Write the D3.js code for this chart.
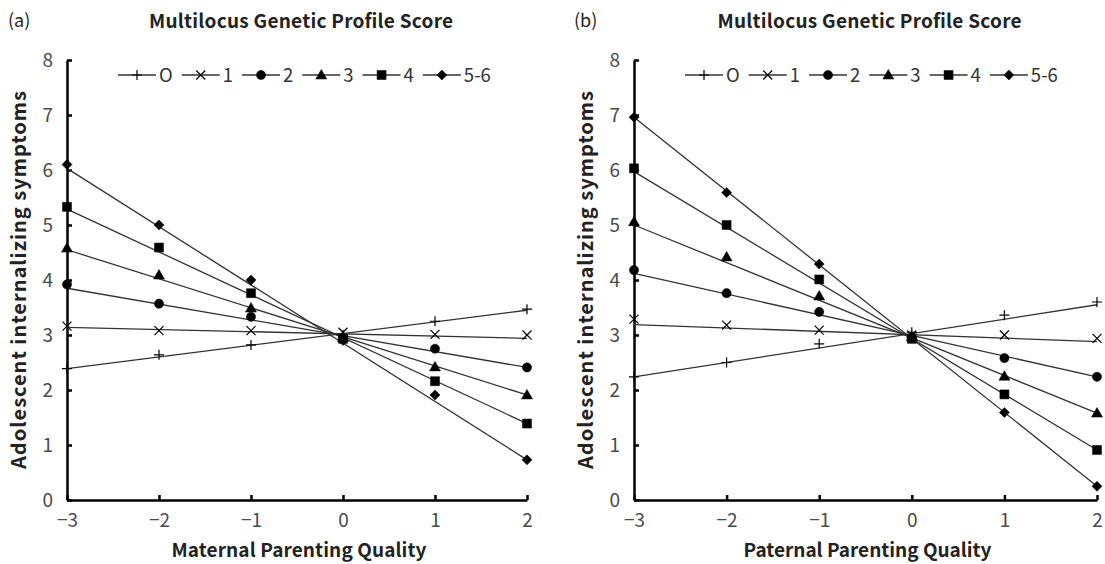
<!DOCTYPE html>
<html>
<head>
<meta charset="utf-8">
<script src="https://cdn.jsdelivr.net/npm/d3@7"></script>
<style>
    body { margin: 0; background: #fff; }
    text { font-family: "Noto Sans CJK JP", "Noto Sans", sans-serif; }
</style>
</head>
<body>
<div id="chart"></div>
<script>
// data
const xLevels = [-3, -2, -1, 0, 1, 2];
const groups = ["O", "1", "2", "3", "4", "5-6"];
const yTicks = [0, 1, 2, 3, 4, 5, 6, 7, 8];

// marker values, one row per genetic score group
const maternalPoints = [
    [2.39, 2.64, 2.82, 3.0, 3.25, 3.47],
    [3.16, 3.08, 3.08, 3.05, 3.01, 3.0],
    [3.92, 3.57, 3.33, 2.93, 2.75, 2.41],
    [4.58, 4.09, 3.49, 2.95, 2.42, 1.91],
    [5.33, 4.59, 3.76, 2.93, 2.16, 1.39],
    [6.1, 5.0, 4.0, 2.9, 1.91, 0.73],
];
// fitted line value at x = -3 and at x = 2
const maternalLineFrom = [2.39, 3.14, 3.85, 4.55, 5.29, 6.03];
const maternalLineTo = [3.45, 2.94, 2.41, 1.91, 1.39, 0.73];

const paternalPoints = [
    [2.24, 2.5, 2.84, 3.05, 3.36, 3.6],
    [3.29, 3.18, 3.09, 3.0, 3.0, 2.94],
    [4.18, 3.76, 3.42, 2.95, 2.58, 2.24],
    [5.06, 4.42, 3.71, 2.97, 2.25, 1.58],
    [6.03, 5.0, 4.01, 2.93, 1.92, 0.91],
    [6.96, 5.59, 4.29, 2.95, 1.59, 0.25],
];
const paternalLineFrom = [2.24, 3.19, 4.12, 5.0, 5.97, 6.96];
const paternalLineTo = [3.55, 2.88, 2.24, 1.58, 0.91, 0.25];

const width = 1105;
const height = 564;

const svg = d3
    .select("div#chart")
    .append("svg")
    .attr("width", width)
    .attr("height", height);

// marker shapes: plus, cross, circle, triangle, square, diamond
const markerPaths = [
    "M-5,0H5M0,-5V5",
    "M-4.5,-4.5L4.5,4.5M-4.5,4.5L4.5,-4.5",
    d3.symbol().type(d3.symbolCircle).size(Math.PI * 4.6 * 4.6)(),
    "M0,-5.5L5.5,4H-5.5Z",
    "M-4.5,-4.5H4.5V4.5H-4.5Z",
    "M0,-5L5,0L0,5L-5,0Z",
];
const markerFilled = [false, false, true, true, true, true];

const panels = [
    {
        tag: "(a)",
        tagX: 8,
        xTitle: "Maternal Parenting Quality",
        xTitleLen: 255,
        x0: 67,
        x1: 527,
        legendX: 118,
        points: maternalPoints,
        from: maternalLineFrom,
        to: maternalLineTo,
    },
    {
        tag: "(b)",
        tagX: 574,
        xTitle: "Paternal Parenting Quality",
        xTitleLen: 248,
        x0: 634,
        x1: 1097,
        legendX: 685,
        points: paternalPoints,
        from: paternalLineFrom,
        to: paternalLineTo,
    },
];

const y = d3.scaleLinear().domain([0, 8]).range([500, 60]);

panels.forEach((p) => {
    const g = svg.append("g").attr("class", "panel");

    const x = d3.scaleLinear().domain([-3, 2]).range([p.x0, p.x1]);

    // panel tag and title
    g.append("text")
        .attr("x", p.tagX)
        .attr("y", 27)
        .attr("font-size", 18)
        .attr("fill", "#222")
        .text(p.tag);

    g.append("text")
        .attr("x", (p.x0 + p.x1) / 2 + 4)
        .attr("y", 28)
        .attr("text-anchor", "middle")
        .attr("font-size", 19)
        .attr("font-weight", 700)
        .attr("fill", "#222")
        .attr("textLength", 304)
        .attr("lengthAdjust", "spacing")
        .text("Multilocus Genetic Profile Score");

    // axes (ticks point inward)
    const xAxis = d3
        .axisBottom(x)
        .tickValues(xLevels)
        .tickFormat(d3.format("d"))
        .tickSizeInner(-5)
        .tickSizeOuter(0)
        .tickPadding(14);
    const yAxis = d3
        .axisLeft(y)
        .tickValues(yTicks)
        .tickFormat(d3.format("d"))
        .tickSizeInner(-5)
        .tickSizeOuter(0)
        .tickPadding(14);

    const xg = g.append("g").attr("transform", `translate(0,${y(0)})`).call(xAxis);
    const yg = g.append("g").attr("transform", `translate(${x(-3)},0)`).call(yAxis);

    [xg, yg].forEach((a) => {
        a.select(".domain").attr("stroke", "#000").attr("stroke-width", 2.5);
        a.selectAll(".tick line").attr("stroke", "#000").attr("stroke-width", 2.5);
        a.selectAll(".tick text")
            .attr("font-size", 19)
            .attr("fill", "#4a4a4a")
            .style("font-family", '"Noto Sans CJK JP", "Noto Sans", sans-serif');
    });

    // axis titles
    g.append("text")
        .attr("x", (p.x0 + p.x1) / 2 + 2)
        .attr("y", 557)
        .attr("text-anchor", "middle")
        .attr("font-size", 19)
        .attr("font-weight", 700)
        .attr("fill", "#222")
        .attr("textLength", p.xTitleLen)
        .attr("lengthAdjust", "spacing")
        .text(p.xTitle);

    g.append("text")
        .attr("transform", `translate(${p.x0 - 41},${(y(0) + y(8)) / 2}) rotate(-90)`)
        .attr("text-anchor", "middle")
        .attr("font-size", 20)
        .attr("font-weight", 700)
        .attr("fill", "#222")
        .attr("textLength", 378)
        .attr("lengthAdjust", "spacing")
        .text("Adolescent internalizing symptoms");

    // fitted lines
    const line = d3
        .line()
        .x((d) => x(d[0]))
        .y((d) => y(d[1]));

    g.selectAll("path.fit")
        .data(groups.map((name, i) => [[-3, p.from[i]], [2, p.to[i]]]))
        .join("path")
        .attr("class", "fit")
        .attr("d", line)
        .attr("fill", "none")
        .attr("stroke", "#333")
        .attr("stroke-width", 1.3);

    // markers
    groups.forEach((name, i) => {
        g.selectAll(`path.m${i}`)
            .data(p.points[i].map((v, j) => [xLevels[j], v]))
            .join("path")
            .attr("class", `m${i}`)
            .attr("transform", (d) => `translate(${x(d[0])},${y(d[1])})`)
            .attr("d", markerPaths[i])
            .attr("fill", markerFilled[i] ? "#000" : "none")
            .attr("stroke", "#000")
            .attr("stroke-width", markerFilled[i] ? 0.5 : 1.2);
    });

    // legend
    const legend = g.append("g").attr("transform", `translate(${p.legendX},75)`);
    let lx = 0;
    groups.forEach((name, i) => {
        const item = legend.append("g").attr("transform", `translate(${lx},0)`);
        item.append("line")
            .attr("x1", 0)
            .attr("x2", 38)
            .attr("stroke", "#333")
            .attr("stroke-width", 1.3);
        item.append("path")
            .attr("transform", "translate(19,0)")
            .attr("d", markerPaths[i])
            .attr("fill", markerFilled[i] ? "#000" : "none")
            .attr("stroke", "#000")
            .attr("stroke-width", markerFilled[i] ? 0.5 : 1.2);
        const t = item.append("text")
            .attr("x", 41)
            .attr("y", 6.5)
            .attr("font-size", 18.5)
            .attr("fill", "#333")
            .text(name);
        lx += 41 + t.node().getComputedTextLength() + 9;
    });
});
</script>
</body>
</html>
